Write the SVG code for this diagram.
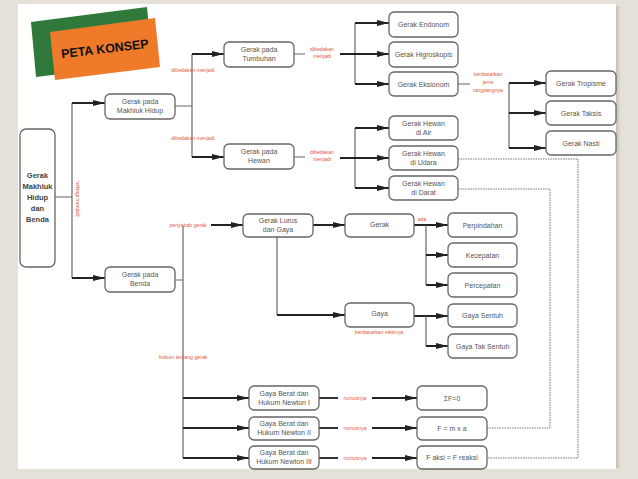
<svg xmlns="http://www.w3.org/2000/svg" width="638" height="479" viewBox="0 0 638 479">
<defs>
<marker id="ah" viewBox="0 0 12 6" refX="12" refY="3" markerWidth="12" markerHeight="6" markerUnits="userSpaceOnUse" orient="auto">
<path d="M0,0 L12,3 L0,6 Z" fill="#222"/>
</marker>
<linearGradient id="shadow" x1="0" x2="1" y1="0" y2="0">
<stop offset="0" stop-color="#bdb8ae"/>
<stop offset="1" stop-color="#e6e1d8"/>
</linearGradient>
</defs>
<style>
.box{fill:#fff;stroke:#666;stroke-width:1.3}
.t{font-family:"Liberation Sans",Arial,sans-serif;font-size:7px;fill:#555;text-anchor:middle}
.root{font-family:"Liberation Sans",Arial,sans-serif;font-size:7.5px;font-weight:bold;fill:#444;text-anchor:middle}
.lbl{font-family:"Liberation Sans",Arial,sans-serif;font-size:5.2px;fill:#e2583f;text-anchor:middle}
.thin{fill:none;stroke:#666;stroke-width:1.2}
.dark{fill:none;stroke:#333;stroke-width:1.8}
.arr{fill:none;stroke:#222;stroke-width:2;marker-end:url(#ah)}
.dot{fill:none;stroke:#777;stroke-width:1;stroke-dasharray:1.5 1}
</style>
<rect x="0" y="0" width="638" height="479" fill="#e6e1d8"/>
<rect x="615" y="6" width="6" height="462" fill="url(#shadow)"/>
<rect x="18" y="4" width="598" height="465" fill="#fff"/>

<g id="title">
<polygon points="31,22 147,7 152,63 36,77" fill="#2f7a3a"/>
<polygon points="50,32 155,18 160,67 55,80" fill="#ee7a2a"/>
<text x="105" y="53" transform="rotate(-7 105 50)" font-family="'Liberation Sans',Arial,sans-serif" font-size="12.5" font-weight="bold" fill="#111" text-anchor="middle" textLength="88" lengthAdjust="spacingAndGlyphs">PETA KONSEP</text>
</g>

<g id="connectors">
<path class="thin" d="M55,197 H72 M72,103 V278"/>
<path class="arr" d="M72,103 H105"/>
<path class="arr" d="M72,278 H105"/>
<path class="thin" d="M175,106 H192 M192,54 V157"/>
<path class="arr" d="M192,54 H224"/>
<path class="arr" d="M192,157 H224"/>
<path class="thin" d="M294,54 H305 M355,23 V84"/>
<path class="arr" d="M340,54 H389"/>
<path class="arr" d="M355,23 H389"/>
<path class="arr" d="M355,84 H389"/>
<path class="thin" d="M294,157 H305 M355,128 V188"/>
<path class="arr" d="M340,158 H389"/>
<path class="arr" d="M355,128 H389"/>
<path class="arr" d="M355,188 H389"/>
<path class="thin" d="M458,84 H470 M509,83 V148"/>
<path class="arr" d="M509,83 H546"/>
<path class="arr" d="M509,113 H546"/>
<path class="arr" d="M509,148 H546"/>
<path class="thin" d="M174,280 H183 M183,226 V458"/>
<path class="arr" d="M211,225 H243"/>
<path class="arr" d="M313,225 H345"/>
<path class="thin" d="M277,237 V315"/>
<path class="arr" d="M277,315 H345"/>
<path class="arr" d="M414,225 H448"/>
<path class="thin" d="M426,225 V285"/>
<path class="arr" d="M426,255 H448"/>
<path class="arr" d="M426,285 H448"/>
<path class="arr" d="M414,316 H448"/>
<path class="thin" d="M426,316 V346"/>
<path class="arr" d="M426,346 H448"/>
<path class="arr" d="M183,398 H249"/>
<path class="arr" d="M183,428 H249"/>
<path class="arr" d="M183,458 H249"/>
<path class="dark" d="M319,398 H338 M319,428 H338 M319,458 H338"/>
<path class="arr" d="M372,398 H417"/>
<path class="arr" d="M372,428 H417"/>
<path class="arr" d="M372,458 H417"/>
<path class="dot" d="M458,159 H578 V458 H487"/>
<path class="dot" d="M458,189 H550 V428 H487"/>
</g>

<g id="labels">
<text class="lbl" transform="translate(76,199) rotate(90)">terbagi menjadi</text>
<text class="lbl" x="193" y="72">dibedakan menjadi</text>
<text class="lbl" x="193" y="140">dibedakan menjadi</text>
<text class="lbl" x="322" y="51">dibedakan</text>
<text class="lbl" x="322" y="58">menjadi</text>
<text class="lbl" x="322" y="154">dibedakan</text>
<text class="lbl" x="322" y="161">menjadi</text>
<text class="lbl" x="488" y="76">berdasarkan</text>
<text class="lbl" x="488" y="84">jenis</text>
<text class="lbl" x="488" y="92">rangsangnya</text>
<text class="lbl" x="188" y="227">penyebab gerak</text>
<text class="lbl" x="422" y="221">ada</text>
<text class="lbl" x="379" y="334">berdasarkan efeknya</text>
<text class="lbl" x="183" y="359">hukum tentang gerak</text>
<text class="lbl" x="355" y="400">rumusnya</text>
<text class="lbl" x="355" y="430">rumusnya</text>
<text class="lbl" x="355" y="460">rumusnya</text>
</g>

<g id="n-root"><rect class="box" x="20" y="129" width="35" height="138" rx="6" stroke-width="1.6"/>
<text class="root" x="37.5" y="178">Gerak</text><text class="root" x="37.5" y="189">Makhluk</text><text class="root" x="37.5" y="200">Hidup</text><text class="root" x="37.5" y="211">dan</text><text class="root" x="37.5" y="222">Benda</text></g>

<g id="n-mh"><rect class="box" x="105" y="94" width="70" height="25" rx="5"/><text class="t" x="140" y="104">Gerak pada</text><text class="t" x="140" y="113">Makhluk Hidup</text></g>
<g id="n-benda"><rect class="box" x="105" y="267" width="70" height="25" rx="5"/><text class="t" x="140" y="277">Gerak pada</text><text class="t" x="140" y="286">Benda</text></g>
<g id="n-tumbuhan"><rect class="box" x="224" y="42" width="70" height="25" rx="5"/><text class="t" x="259" y="52">Gerak pada</text><text class="t" x="259" y="61">Tumbuhan</text></g>
<g id="n-hewan"><rect class="box" x="224" y="144" width="70" height="25" rx="5"/><text class="t" x="259" y="154">Gerak pada</text><text class="t" x="259" y="163">Hewan</text></g>

<g id="n-endonom"><rect class="box" x="389" y="12" width="69" height="25" rx="5"/><text class="t" x="423.5" y="26.5">Gerak Endonom</text></g>
<g id="n-higro"><rect class="box" x="389" y="42" width="69" height="25" rx="5"/><text class="t" x="423.5" y="56.5">Gerak Higroskopis</text></g>
<g id="n-eksionom"><rect class="box" x="389" y="72" width="69" height="24" rx="5"/><text class="t" x="423.5" y="86.5">Gerak Eksionom</text></g>
<g id="n-air"><rect class="box" x="389" y="116" width="69" height="24" rx="5"/><text class="t" x="423.5" y="126">Gerak Hewan</text><text class="t" x="423.5" y="135">di Air</text></g>
<g id="n-udara"><rect class="box" x="389" y="146" width="69" height="24" rx="5"/><text class="t" x="423.5" y="156">Gerak Hewan</text><text class="t" x="423.5" y="165">di Udara</text></g>
<g id="n-darat"><rect class="box" x="389" y="176" width="69" height="24" rx="5"/><text class="t" x="423.5" y="186">Gerak Hewan</text><text class="t" x="423.5" y="195">di Darat</text></g>

<g id="n-tropisme"><rect class="box" x="546" y="71" width="70" height="25" rx="5"/><text class="t" x="581" y="85.5">Gerak Tropisme</text></g>
<g id="n-taksis"><rect class="box" x="546" y="101" width="70" height="24" rx="5"/><text class="t" x="581" y="115.5">Gerak Taksis</text></g>
<g id="n-nasti"><rect class="box" x="546" y="131" width="70" height="24" rx="5"/><text class="t" x="581" y="145.5">Gerak Nasti</text></g>

<g id="n-lurus"><rect class="box" x="243" y="214" width="70" height="23" rx="5"/><text class="t" x="278" y="223">Gerak Lurus</text><text class="t" x="278" y="232">dan Gaya</text></g>
<g id="n-gerak"><rect class="box" x="345" y="214" width="69" height="23" rx="5"/><text class="t" x="379.5" y="227">Gerak</text></g>
<g id="n-gaya"><rect class="box" x="345" y="303" width="69" height="24" rx="5"/><text class="t" x="379.5" y="316">Gaya</text></g>
<g id="n-perpindahan"><rect class="box" x="448" y="213" width="69" height="24" rx="5"/><text class="t" x="482.5" y="227.5">Perpindahan</text></g>
<g id="n-kecepatan"><rect class="box" x="448" y="243" width="69" height="24" rx="5"/><text class="t" x="482.5" y="257.5">Kecepatan</text></g>
<g id="n-percepatan"><rect class="box" x="448" y="273" width="69" height="24" rx="5"/><text class="t" x="482.5" y="287.5">Percepatan</text></g>
<g id="n-sentuh"><rect class="box" x="448" y="304" width="69" height="23" rx="5"/><text class="t" x="482.5" y="318">Gaya Sentuh</text></g>
<g id="n-taksentuh"><rect class="box" x="448" y="334" width="69" height="24" rx="5"/><text class="t" x="482.5" y="348.5">Gaya Tak Sentuh</text></g>

<g id="n-newton1"><rect class="box" x="249" y="386" width="70" height="24" rx="5"/><text class="t" x="284" y="396">Gaya Berat dan</text><text class="t" x="284" y="405">Hukum Newton I</text></g>
<g id="n-newton2"><rect class="box" x="249" y="417" width="70" height="23" rx="5"/><text class="t" x="284" y="426">Gaya Berat dan</text><text class="t" x="284" y="435">Hukum Newton II</text></g>
<g id="n-newton3"><rect class="box" x="249" y="446" width="70" height="23" rx="5"/><text class="t" x="284" y="455">Gaya Berat dan</text><text class="t" x="284" y="464">Hukum Newton III</text></g>
<g id="n-f0"><rect class="box" x="417" y="386" width="70" height="24" rx="5"/><text class="t" x="452" y="400.5">ΣF=0</text></g>
<g id="n-fma"><rect class="box" x="417" y="417" width="70" height="23" rx="5"/><text class="t" x="452" y="431">F = m x a</text></g>
<g id="n-faksi"><rect class="box" x="417" y="446" width="70" height="23" rx="5"/><text class="t" x="452" y="460">F aksi = F reaksi</text></g>
</svg>
